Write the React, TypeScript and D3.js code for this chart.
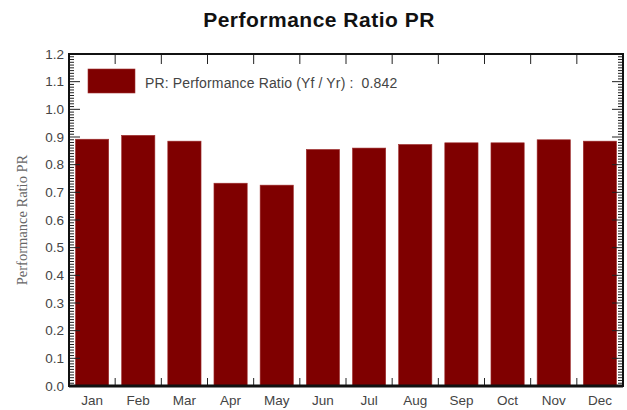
import { useEffect, useRef } from "react";
import * as d3 from "d3";

const WIDTH = 627;
const HEIGHT = 410;
const MARGIN = { top: 54, right: 4, bottom: 24, left: 69 };

const months = ["Jan", "Feb", "Mar", "Apr", "May", "Jun", "Jul", "Aug", "Sep", "Oct", "Nov", "Dec"];
const prValues = [0.892, 0.906, 0.885, 0.733, 0.726, 0.855, 0.86, 0.873, 0.879, 0.879, 0.89, 0.885];
const yTicks = [0, 0.1, 0.2, 0.3, 0.4, 0.5, 0.6, 0.7, 0.8, 0.9, 1.0, 1.1, 1.2];
const legendLabel = "PR: Performance Ratio (Yf / Yr) :  0.842";

const BAR_COLOR = "#7f0000";
const TEXT_COLOR = "#444";
const SANS = "Liberation Sans, Arial, sans-serif";

export default function App() {
  const ref = useRef<SVGGElement>(null);
  const boundsWidth = WIDTH - MARGIN.left - MARGIN.right;
  const boundsHeight = HEIGHT - MARGIN.top - MARGIN.bottom;

  const xScale = d3.scaleBand().domain(months).range([0, boundsWidth]).paddingInner(0.28).paddingOuter(0.14);
  const yScale = d3.scaleLinear().domain([0, 1.2]).range([boundsHeight, 0]);

  useEffect(() => {
    const g = d3.select(ref.current);
    g.selectAll("*").remove();

    // minor ticks left + right (every 0.01, major every 0.1)
    const minor = d3.range(0, 121).map((d) => d / 100);
    g.append("g")
      .selectAll("line")
      .data(minor)
      .join("line")
      .attr("x1", 0)
      .attr("x2", (d, i) => (i % 10 === 0 ? 11 : 5))
      .attr("y1", (d) => yScale(d))
      .attr("y2", (d) => yScale(d))
      .attr("stroke", "#222")
      .attr("stroke-width", 1);
    g.append("g")
      .selectAll("line")
      .data(minor)
      .join("line")
      .attr("x1", boundsWidth)
      .attr("x2", (d, i) => boundsWidth - (i % 10 === 0 ? 11 : 5))
      .attr("y1", (d) => yScale(d))
      .attr("y2", (d) => yScale(d))
      .attr("stroke", "#222")
      .attr("stroke-width", 1);

    // y labels
    g.append("g")
      .selectAll("text")
      .data(yTicks)
      .join("text")
      .attr("x", -5)
      .attr("y", (d) => yScale(d))
      .attr("dy", "0.35em")
      .attr("text-anchor", "end")
      .attr("font-family", SANS)
      .attr("font-size", 13.5)
      .attr("fill", TEXT_COLOR)
      .text((d) => d.toFixed(1));

    // category boundary ticks (top + bottom)
    const step = xScale.step();
    const bounds = d3.range(1, months.length).map((i) => i * step);
    g.append("g")
      .selectAll("line")
      .data(bounds)
      .join("line")
      .attr("x1", (d) => d)
      .attr("x2", (d) => d)
      .attr("y1", 0)
      .attr("y2", 10)
      .attr("stroke", "#222");
    g.append("g")
      .selectAll("line")
      .data(bounds)
      .join("line")
      .attr("x1", (d) => d)
      .attr("x2", (d) => d)
      .attr("y1", boundsHeight)
      .attr("y2", boundsHeight - 8)
      .attr("stroke", "#222");

    // x labels
    g.append("g")
      .selectAll("text")
      .data(months)
      .join("text")
      .attr("x", (d) => (xScale(d) ?? 0) + xScale.bandwidth() / 2)
      .attr("y", boundsHeight + 19)
      .attr("text-anchor", "middle")
      .attr("font-family", SANS)
      .attr("font-size", 13.5)
      .attr("fill", TEXT_COLOR)
      .text((d) => d);
  }, []);

  const bars = months.map((m, i) => (
    <rect
      key={m}
      x={xScale(m)}
      y={yScale(prValues[i])}
      width={xScale.bandwidth()}
      height={boundsHeight - yScale(prValues[i])}
      fill={BAR_COLOR}
      stroke="#a03030"
      strokeWidth={0.6}
    />
  ));

  return (
    <svg width={WIDTH} height={HEIGHT} style={{ position: "absolute", left: 0, top: 0, background: "#fff" }}>
      <text
        x={319}
        y={27}
        textAnchor="middle"
        fontFamily={SANS}
        fontWeight="bold"
        fontSize={21}
        letterSpacing={0.5}
        fill="#111"
      >
        Performance Ratio PR
      </text>
      <text
        transform={`translate(27,220) rotate(-90)`}
        textAnchor="middle"
        fontFamily="Liberation Serif, Times New Roman, serif"
        fontSize={14.5}
        fill="#666"
      >
        Performance Ratio PR
      </text>
      <g transform={`translate(${MARGIN.left},${MARGIN.top})`}>
        {bars}
        <rect x={19} y={15} width={47} height={24} fill={BAR_COLOR} stroke="#a03030" strokeWidth={0.6} />
        <text
          x={76}
          y={34}
          fontFamily={SANS}
          fontSize={14}
          letterSpacing={0.15}
          fill={TEXT_COLOR}
          style={{ whiteSpace: "pre" }}
        >
          {legendLabel}
        </text>
        <g ref={ref} />
        <rect x={0} y={0} width={boundsWidth} height={boundsHeight} fill="none" stroke="#111" strokeWidth={2} />
        <line x1={0} x2={boundsWidth} y1={boundsHeight} y2={boundsHeight} stroke="#111" strokeWidth={3} />
      </g>
    </svg>
  );
}
